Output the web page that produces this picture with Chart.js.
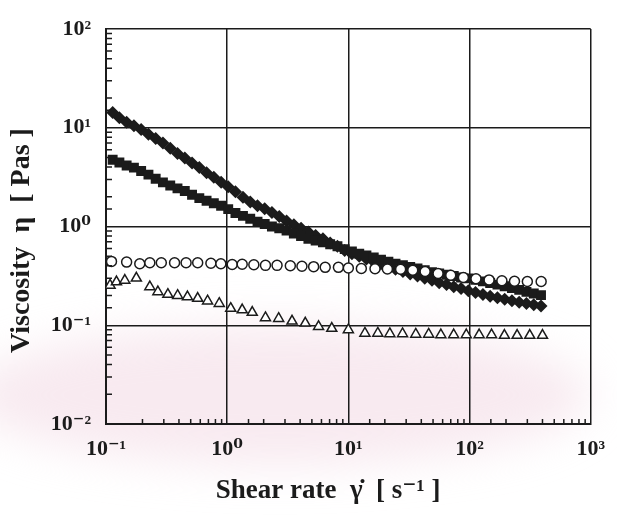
<!DOCTYPE html>
<html>
<head>
<meta charset="utf-8">
<script src="https://cdn.jsdelivr.net/npm/chart.js@4"></script>
<style>
  html, body { margin: 0; padding: 0; background: #fff; }
  #wrap { width: 617px; height: 515px; }
</style>
</head>
<body>
<div id="wrap"><canvas id="mainChart" width="617" height="515"></canvas></div>
<script>
// shear rate (1/s) shared by the two filled series, viscosity (Pa s)
const filledRate = [0.1135, 0.129, 0.148, 0.17, 0.195, 0.224, 0.257, 0.295, 0.339, 0.389, 0.447, 0.513, 0.589, 0.676, 0.776, 0.891, 1.02, 1.17, 1.35, 1.55, 1.78, 2.04, 2.34, 2.69, 3.09, 3.55, 4.07, 4.68, 5.37, 6.17, 7.08, 8.13, 9.33, 10.7, 12.3, 14.1, 16.2, 18.6, 21.4, 24.5, 28.2, 32.4, 37.2, 42.7, 49, 56.2, 64.6, 74.1, 85.1, 97.7, 112, 129, 148, 170, 195, 224, 257, 295, 339, 389];
const diamondVisc = [14.3, 12.6, 11.4, 10.5, 9.6, 8.6, 7.8, 7.0, 6.2, 5.5, 4.95, 4.4, 3.95, 3.5, 3.15, 2.8, 2.52, 2.25, 1.98, 1.77, 1.62, 1.51, 1.39, 1.26, 1.14, 1.04, 0.96, 0.88, 0.81, 0.75, 0.68, 0.63, 0.57, 0.53, 0.5, 0.47, 0.44, 0.42, 0.39, 0.37, 0.35, 0.33, 0.315, 0.3, 0.285, 0.27, 0.258, 0.246, 0.235, 0.224, 0.214, 0.205, 0.197, 0.19, 0.183, 0.177, 0.171, 0.166, 0.161, 0.157];
const squareVisc = [4.75, 4.45, 4.15, 3.95, 3.65, 3.35, 3.05, 2.8, 2.6, 2.43, 2.29, 2.1, 1.94, 1.82, 1.72, 1.62, 1.5, 1.37, 1.28, 1.2, 1.12, 1.06, 1.0, 0.96, 0.91, 0.85, 0.8, 0.75, 0.72, 0.69, 0.66, 0.63, 0.59, 0.56, 0.53, 0.51, 0.485, 0.46, 0.44, 0.42, 0.405, 0.39, 0.375, 0.36, 0.345, 0.335, 0.325, 0.315, 0.305, 0.298, 0.288, 0.278, 0.268, 0.258, 0.248, 0.238, 0.228, 0.218, 0.21, 0.202];

const circleRate = [0.111, 0.148, 0.19, 0.23, 0.286, 0.368, 0.458, 0.571, 0.734, 0.887, 1.1, 1.33, 1.66, 2.07, 2.58, 3.32, 4.14, 5.17, 6.44, 8.28, 10, 12.8, 16.6, 21, 27, 34, 43, 55, 70, 89, 113, 145, 185, 235, 300, 390];
const circleVisc = [0.443, 0.436, 0.42, 0.43, 0.43, 0.43, 0.43, 0.43, 0.425, 0.42, 0.412, 0.415, 0.41, 0.404, 0.404, 0.4, 0.396, 0.392, 0.386, 0.386, 0.38, 0.376, 0.374, 0.372, 0.37, 0.36, 0.35, 0.335, 0.32, 0.305, 0.295, 0.288, 0.282, 0.279, 0.277, 0.277];

const triangleRate = [0.108, 0.122, 0.143, 0.178, 0.23, 0.268, 0.324, 0.39, 0.47, 0.571, 0.689, 0.86, 1.07, 1.33, 1.61, 2.07, 2.66, 3.43, 4.41, 5.68, 7.3, 10, 13.7, 17.5, 22, 28, 36, 46, 58, 74, 94, 120, 152, 194, 247, 314, 400];
const triangleVisc = [0.254, 0.275, 0.285, 0.30, 0.245, 0.218, 0.205, 0.2, 0.194, 0.187, 0.176, 0.166, 0.148, 0.143, 0.135, 0.119, 0.117, 0.11, 0.105, 0.097, 0.093, 0.09, 0.083, 0.083, 0.082, 0.082, 0.081, 0.081, 0.08, 0.08, 0.08, 0.08, 0.08, 0.079, 0.079, 0.079, 0.079];

const xMin = 0.1, xMax = 1000;
const yMin = 0.01, yMax = 100;
const xTitle = "Shear rate  \u03B3\u0307  [ s\u207B\u00B9 ]      ";
const yTitle = "Viscosity  \u03B7  [ Pas ]    ";

const SUP = { "-": "\u207B", "0": "\u2070", "1": "\u00B9", "2": "\u00B2", "3": "\u00B3" };

function isDecade(v) {
    const l = Math.log10(v);
    return Math.abs(l - Math.round(l)) < 1e-6;
}

function decadeLabel(v) {
    if (!isDecade(v)) return "";
    const e = String(Math.round(Math.log10(v)));
    return "10" + e.split("").map(c => SUP[c]).join("");
}

function toPoints(xs, ys) {
    return xs.map((x, i) => ({ x: x, y: ys[i] }));
}

const ink = "#1b1b1b";
const serif = "'Liberation Serif', 'DejaVu Serif', serif";

// faint pink wash like the scanned page
const paperPlugin = {
    id: "paper",
    beforeDraw(chart) {
        const c = chart.ctx;
        c.save();
        c.fillStyle = "#ffffff";
        c.fillRect(0, 0, chart.width, chart.height);
        c.filter = "blur(22px)";
        c.fillStyle = "rgba(242, 214, 226, 0.5)";
        c.beginPath();
        c.ellipse(280, 395, 310, 70, 0, 0, Math.PI * 2);
        c.fill();
        c.restore();
    }
};

// small inward minor ticks on the left and bottom axes
const minorTicks = {
    id: "minorTicks",
    afterDraw(chart) {
        const c = chart.ctx;
        const xs = chart.scales.x, ys = chart.scales.y;
        const area = chart.chartArea;
        c.save();
        c.strokeStyle = ink;
        c.lineWidth = 1.5;
        c.beginPath();
        ys.ticks.forEach(t => {
            if (isDecade(t.value)) return;
            const py = ys.getPixelForValue(t.value);
            c.moveTo(area.left, py);
            c.lineTo(area.left + 6, py);
        });
        xs.ticks.forEach(t => {
            if (isDecade(t.value)) return;
            const px = xs.getPixelForValue(t.value);
            c.moveTo(px, area.bottom);
            c.lineTo(px, area.bottom - 5);
        });
        c.stroke();
        c.restore();
    }
};

const ctx = document.getElementById("mainChart").getContext("2d");
const mainChart = new Chart(ctx, {
    type: "scatter",
    data: {
        datasets: [
            {
                label: "diamonds",
                data: toPoints(filledRate, diamondVisc),
                pointStyle: "rectRot",
                pointRadius: 6.5,
                backgroundColor: ink,
                borderColor: ink,
                borderWidth: 0,
                order: 3
            },
            {
                label: "squares",
                data: toPoints(filledRate, squareVisc),
                pointStyle: "rect",
                pointRadius: 7,
                backgroundColor: ink,
                borderColor: ink,
                borderWidth: 0,
                order: 2
            },
            {
                label: "circles",
                data: toPoints(circleRate, circleVisc),
                pointStyle: "circle",
                pointRadius: 5,
                backgroundColor: "#ffffff",
                borderColor: ink,
                borderWidth: 1.5,
                order: 0
            },
            {
                label: "triangles",
                data: toPoints(triangleRate, triangleVisc),
                pointStyle: "triangle",
                pointRadius: 5.8,
                backgroundColor: "#ffffff",
                borderColor: ink,
                borderWidth: 1.5,
                order: 1
            }
        ]
    },
    options: {
        responsive: false,
        animation: false,
        layout: { padding: { left: 0, right: 24, top: 29, bottom: 0 } },
        plugins: {
            legend: { display: false },
            tooltip: { enabled: false }
        },
        scales: {
            x: {
                type: "logarithmic",
                min: xMin,
                max: xMax,
                afterFit(scale) { scale.height = 91; },
                border: { display: true, color: ink, width: 2 },
                grid: {
                    drawTicks: false,
                    lineWidth: 1.5,
                    color: c => (c.tick && isDecade(c.tick.value)) ? ink : "rgba(0,0,0,0)"
                },
                ticks: {
                    autoSkip: false,
                    maxRotation: 0,
                    padding: 12,
                    color: ink,
                    font: { family: serif, size: 22, weight: "bold" },
                    callback: v => decadeLabel(v)
                },
                title: {
                    display: true,
                    text: xTitle,
                    color: ink,
                    padding: { top: 0, bottom: 8 },
                    font: { family: serif, size: 27, weight: "bold" }
                }
            },
            y: {
                type: "logarithmic",
                min: yMin,
                max: yMax,
                afterFit(scale) { scale.width = 106; },
                border: { display: true, color: ink, width: 2 },
                grid: {
                    drawTicks: false,
                    lineWidth: 1.5,
                    color: c => (c.tick && isDecade(c.tick.value)) ? ink : "rgba(0,0,0,0)"
                },
                ticks: {
                    autoSkip: false,
                    padding: 15,
                    color: ink,
                    font: { family: serif, size: 22, weight: "bold" },
                    callback: v => decadeLabel(v)
                },
                title: {
                    display: true,
                    text: yTitle,
                    color: ink,
                    padding: { top: 5, bottom: 0 },
                    font: { family: serif, size: 28, weight: "bold" }
                }
            }
        }
    },
    plugins: [paperPlugin, minorTicks]
});
</script>
</body>
</html>
